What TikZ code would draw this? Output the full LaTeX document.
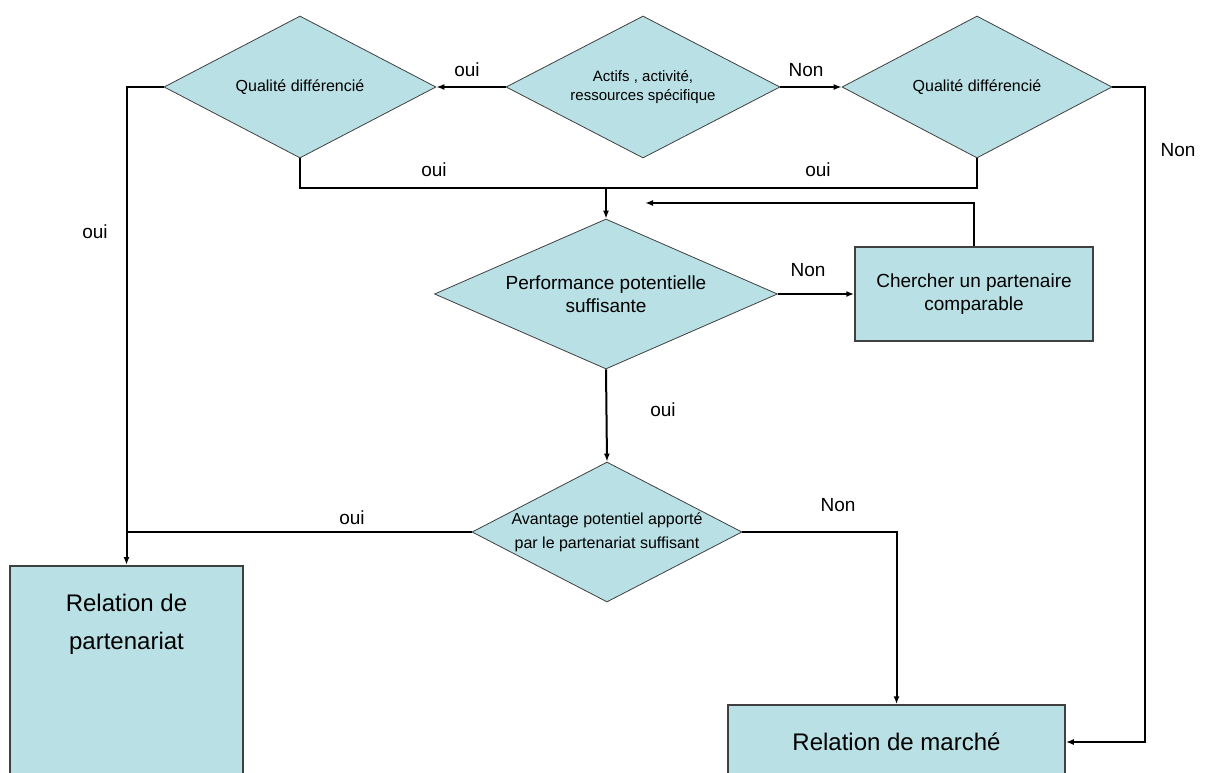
\documentclass[tikz,border=0pt]{standalone}
\usepackage{fontspec}
\setmainfont{Liberation Sans}
\usetikzlibrary{shapes.geometric,arrows.meta}
\definecolor{bleu}{RGB}{185,224,228}
\definecolor{bord}{RGB}{64,64,64}
\begin{document}
\begin{tikzpicture}[x=1pt,y=-1pt,
	choix/.style={diamond,draw=bord,fill=bleu,line width=0.8pt,inner sep=0pt,aspect=2,align=center},
	boite/.style={rectangle,draw=bord,fill=bleu,line width=1.5pt,inner sep=0pt,align=center},
	lien/.style={line width=2pt},
	fleche/.style={lien,-{Latex[length=8pt,width=6pt]}},
	etiq/.style={font=\fontsize{19}{21}\selectfont}]
			\useasboundingbox (0,0) rectangle (1205,773);
			% decisions
			\node[choix,minimum width=272pt,minimum height=142pt,font=\fontsize{16}{19}\selectfont] (q1) at (300,87) {Qualité différencié};
			\node[choix,minimum width=274pt,minimum height=142pt,font=\fontsize{15}{19}\selectfont] (actif) at (643,87) {Actifs , activité,\\ressources spécifique};
			\node[choix,minimum width=270pt,minimum height=142pt,font=\fontsize{16}{19}\selectfont] (q2) at (977,87) {Qualité différencié};
			\node[choix,minimum width=343pt,minimum height=150pt,font=\fontsize{19}{23}\selectfont] (perf) at (606,294) {Performance potentielle\\suffisante};
			\node[choix,minimum width=270pt,minimum height=140pt,font=\fontsize{16}{24}\selectfont] (avant) at (607,532) {Avantage potentiel apporté\\par le partenariat suffisant};
			% boites
			\node[boite,minimum width=238pt,minimum height=94pt,font=\fontsize{19}{23}\selectfont] (cherch) at (974,294) {Chercher un partenaire\\comparable};
			\node[boite,minimum width=233pt,minimum height=240pt,anchor=north] (rp) at (126.5,565) {};
			\node[font=\fontsize{24}{38}\selectfont,align=center] (rptxt) at (126.5,624) {Relation de\\partenariat};
			\node[boite,minimum width=337pt,minimum height=74pt,font=\fontsize{24}{28}\selectfont] (rm) at (896.5,742) {Relation de marché};
			% points de passage
			\coordinate (jonc) at (606,188);
			\coordinate (coin) at (1145,742);
			\coordinate (retour) at (645,203);
			% liaisons
			\draw[fleche] (actif.west) -- (q1.east);
			\draw[fleche] (actif.east) -- (q2.west);
			\draw[lien] (q1.south) -- (q1.south |- jonc) -| (q2.south);
			\draw[fleche] (jonc) -- (perf.north);
			\draw[fleche] (q1.west) -| (rp.north);
			\draw[fleche] (q2.east) -| (coin) -- (rm.east);
			\draw[fleche] (perf.east) -- (cherch.west);
			\draw[fleche] (cherch.north) |- (retour);
			\draw[fleche] (perf.south) -- (avant.north);
			\draw[lien] (avant.west) -- (avant.west -| rp.north);
			\draw[fleche] (avant.east) -| (rm.north);
			% etiquettes
			\node[etiq] (e1) at (467,70) {oui};
			\node[etiq] (e2) at (806,70) {Non};
			\node[etiq] (e3) at (1178,150) {Non};
			\node[etiq] (e4) at (95,232) {oui};
			\node[etiq] (e5) at (434,170) {oui};
			\node[etiq] (e6) at (818,170) {oui};
			\node[etiq] (e7) at (808,270) {Non};
			\node[etiq] (e8) at (663,410) {oui};
			\node[etiq] (e9) at (352,518) {oui};
			\node[etiq] (e10) at (838,505) {Non};
		\end{tikzpicture}
\end{document}
